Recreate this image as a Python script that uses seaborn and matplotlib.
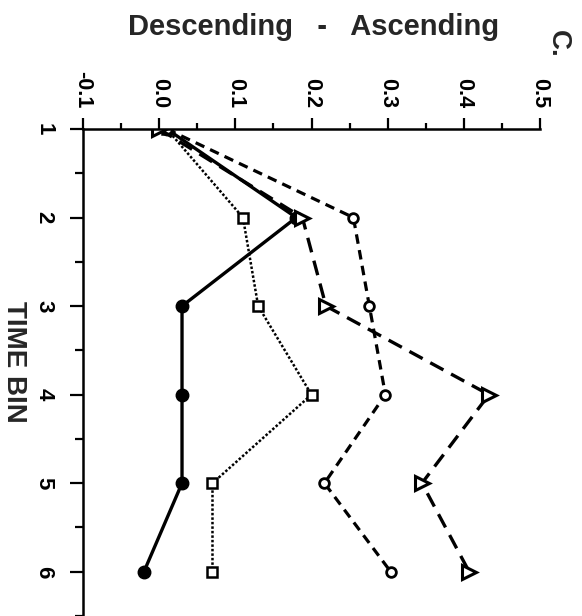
import matplotlib
matplotlib.use("Agg")
import matplotlib.pyplot as plt
import seaborn as sns
import numpy as np

# Time bins and the difference score (Descending - Ascending) for each condition
time_bin = [1, 2, 3, 4, 5, 6]
filled_circles = [0.01, 0.18, 0.03, 0.03, 0.03, -0.02]
open_squares = [0.01, 0.11, 0.13, 0.20, 0.07, 0.07]
open_circles = [0.01, 0.255, 0.276, 0.297, 0.217, 0.304]
open_triangles = [0.0, 0.188, 0.219, 0.433, 0.345, 0.407]

x_ticks = [-0.1, 0.0, 0.1, 0.2, 0.3, 0.4, 0.5]
x_tick_labels = ["-0.1", "0.0", "0.1", "0.2", "0.3", "0.4", "0.5"]
y_ticks = [1, 2, 3, 4, 5, 6]
y_tick_labels = ["1", "2", "3", "4", "5", "6"]

sns.set_theme(style="white")
plt.rcParams["font.family"] = ["Liberation Sans", "DejaVu Sans"]
plt.rcParams["font.weight"] = "bold"

W, H = 582, 616
fig = plt.figure(figsize=(W / 100, H / 100), dpi=100)
ax_left, ax_right, ax_top = 83, 540, 129
ax = fig.add_axes([ax_left / W, 0, (ax_right - ax_left) / W, (H - ax_top) / H])

common = dict(ax=ax, orient="y", sort=False, estimator=None, color="black")

sns.lineplot(x=filled_circles, y=time_bin, linewidth=2.4, linestyle="-",
             marker="o", markersize=9, markerfacecolor="black",
             markeredgecolor="black", markeredgewidth=1.0, **common)
sns.lineplot(x=open_squares, y=time_bin, linewidth=1.8, linestyle=(0, (1, 0.8)),
             marker="s", markersize=7.5, markerfacecolor="white",
             markeredgecolor="black", markeredgewidth=1.8, **common)
sns.lineplot(x=open_circles, y=time_bin, linewidth=2.3, linestyle=(0, (3, 2)),
             marker="o", markersize=7, markerfacecolor="white",
             markeredgecolor="black", markeredgewidth=2.0, **common)
sns.lineplot(x=open_triangles, y=time_bin, linewidth=2.4, linestyle=(0, (4.5, 2.6)),
             marker=">", markersize=10, markerfacecolor="white",
             markeredgecolor="black", markeredgewidth=2.2, **common)

ax.set_xlim(-0.1, 0.5)
ax.set_ylim(1 + (H - ax_top) / 89.6, 1)

ax.spines["right"].set_visible(False)
ax.spines["bottom"].set_visible(False)
ax.spines["top"].set_linewidth(1.8)
ax.spines["left"].set_linewidth(1.8)
for s in ("top", "left"):
    ax.spines[s].set_color("black")

ax.xaxis.tick_top()
ax.set_xticks(x_ticks)
ax.set_xticks(np.arange(-0.1, 0.5, 0.1) + 0.05, minor=True)
ax.set_xticklabels(x_tick_labels, rotation=-90, fontsize=15.5, fontweight="bold")
ax.set_yticks(y_ticks)
ax.set_yticks(np.arange(1.5, 7.0, 1.0), minor=True)
ax.set_yticklabels(y_tick_labels, rotation=-90, fontsize=16, fontweight="bold")

ax.tick_params(axis="x", which="major", direction="out", length=8, width=1.6,
               pad=7, colors="black", top=True, bottom=False)
ax.tick_params(axis="x", which="minor", direction="out", length=4.5, width=1.6,
               top=True, bottom=False, colors="black")
ax.tick_params(axis="y", which="major", direction="out", length=9.5, width=1.6,
               pad=11, colors="black", left=True)
ax.tick_params(axis="y", which="minor", direction="out", length=6, width=1.6,
               left=True, colors="black")
for lbl in ax.get_yticklabels():
    lbl.set_verticalalignment("center")

ax.set_xlabel("")
ax.set_ylabel("")
ax.grid(False)

fig.text(314 / W, 1 - 35 / H, "Descending   -   Ascending", ha="center",
         va="baseline", fontsize=21, fontweight="bold")
fig.text(558 / W, 1 - 44 / H, "C.", rotation=-90, ha="center", va="center",
         fontsize=20, fontweight="bold")
fig.text(14 / W, 1 - 362 / H, "TIME BIN", rotation=-90, ha="center", va="center",
         fontsize=20, fontweight="bold")

fig.savefig("out.png", dpi=100)
